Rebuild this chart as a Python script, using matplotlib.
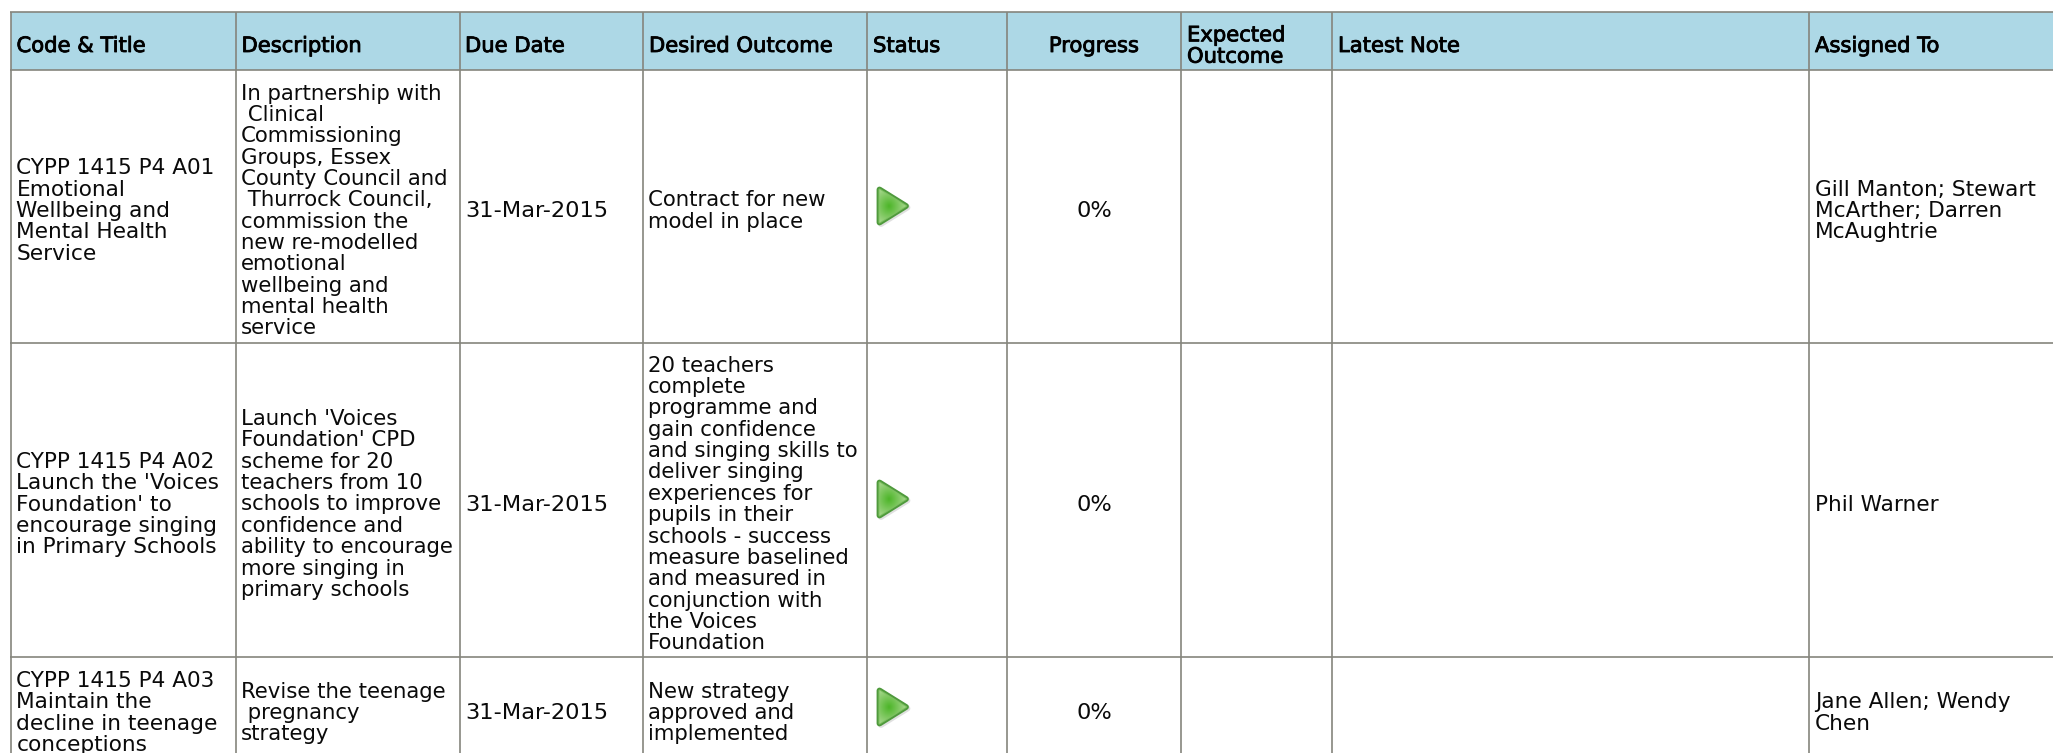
import numpy as np
import matplotlib
matplotlib.use("Agg")
import matplotlib.pyplot as plt
from matplotlib.patches import Polygon, Rectangle
import matplotlib.patheffects as pe

# ---- table content ----
headers = ["Code & Title", "Description", "Due Date", "Desired Outcome", "Status",
           "Progress", "Expected\nOutcome", "Latest Note", "Assigned To"]
codes = [
    "CYPP 1415 P4 A01\nEmotional\nWellbeing and\nMental Health\nService",
    "CYPP 1415 P4 A02\nLaunch the 'Voices\nFoundation' to\nencourage singing\nin Primary Schools",
    "CYPP 1415 P4 A03\nMaintain the\ndecline in teenage\nconceptions",
]
descriptions = [
    "In partnership with\n Clinical\nCommissioning\nGroups, Essex\nCounty Council and\n Thurrock Council,\ncommission the\nnew re-modelled\nemotional\nwellbeing and\nmental health\nservice",
    "Launch 'Voices\nFoundation' CPD\nscheme for 20\nteachers from 10\nschools to improve\nconfidence and\nability to encourage\nmore singing in\nprimary schools",
    "Revise the teenage\n pregnancy\nstrategy",
]
due_dates = ["31-Mar-2015", "31-Mar-2015", "31-Mar-2015"]
outcomes = [
    "Contract for new\nmodel in place",
    "20 teachers\ncomplete\nprogramme and\ngain confidence\nand singing skills to\ndeliver singing\nexperiences for\npupils in their\nschools - success\nmeasure baselined\nand measured in\nconjunction with\nthe Voices\nFoundation",
    "New strategy\napproved and\nimplemented",
]
progress = [0, 0, 0]
expected = ["", "", ""]
notes = ["", "", ""]
assigned = ["Gill Manton; Stewart\nMcArther; Darren\nMcAughtrie", "Phil Warner", "Jane Allen; Wendy\nChen"]

# ---- layout (pixels) ----
W, H = 2053, 753
col_edges = [10.5, 235.5, 459.5, 643, 867, 1007, 1181, 1332, 1809, 2060]
row_edges = [12, 70, 343, 657]
row_cy = [209.5, 503, 711.5]
icon_cy = [206, 499, 707]
PITCH = 21.35
FS = 15.6
FS_DESC = 15.35
FS_DATE = 16.2
FS_HEAD = 15.2
LINE = "#85857d"
INK = "#0a0a0a"

fig = plt.figure(figsize=(W / 100, H / 100), dpi=100, facecolor="white")
ax = fig.add_axes([0, 0, 1, 1])


def put(x, cy, s, ha="left", bold=False, fs=FS, pitch=PITCH):
    parts = s.split("\n")
    for i, line in enumerate(parts):
        y = cy + (i - (len(parts) - 1) / 2) * pitch + 7.5
        t = ax.text(x, y, line, ha=ha, va="baseline", fontsize=FS_HEAD if bold else fs,
                    color="black" if bold else INK, family="DejaVu Sans", clip_on=True)
        if bold:
            t.set_path_effects([pe.withStroke(linewidth=0.6, foreground="black")])


def icon(cy):
    x0, x1 = 876, 911
    y0, y1 = cy - 21, cy + 21
    cx = 889
    tri = [(x0 + 3.5, y0 + 4.5), (x1 - 5, cy), (x0 + 3.5, y1 - 4.5)]
    # soft shadow
    ax.add_patch(Polygon([(a + 1.5, b + 1.5) for a, b in tri], closed=True, fc="#bbbbbb",
                         ec="#bbbbbb", lw=4.2, joinstyle="round", alpha=0.45, zorder=3))
    ax.add_patch(Polygon(tri, closed=True, fc="#4f9a3c", ec="#4f9a3c", lw=4.2, joinstyle="round", zorder=4))
    inner = Polygon(tri, closed=True, fc="none", ec="#7cc060", lw=1.5, joinstyle="round", zorder=5)
    ax.add_patch(inner)
    yy, xx = np.mgrid[y0:y1:60j, x0:x1:60j]
    r = np.clip(np.hypot((xx - cx) / 17, (yy - cy) / 19), 0, 1)[..., None]
    c0 = np.array([0x4c, 0xb5, 0x28]) / 255
    c1 = np.array([0xa4, 0xd6, 0x8a]) / 255
    im = ax.imshow(c0 + (c1 - c0) * r, extent=(x0, x1, y1, y0), aspect="auto", zorder=5, interpolation="bilinear")
    im.set_clip_path(inner)


# header band
ax.add_patch(Rectangle((col_edges[0], row_edges[0]), W, row_edges[1] - row_edges[0], fc="#ADD8E6", ec="none", zorder=0))

# grid
for x in col_edges[:-1]:
    ax.plot([x, x], [row_edges[0], H], color=LINE, lw=1.2, solid_capstyle="butt", zorder=2)
for y in row_edges:
    ax.plot([col_edges[0] - 1, W], [y, y], color=LINE, lw=1.2, solid_capstyle="butt", zorder=2)

# header text
hcy = 44.5
for i, h in enumerate(headers):
    if i == 5:
        put((col_edges[5] + col_edges[6]) / 2, hcy, h, ha="center", bold=True)
    elif i == 2:
        put(col_edges[i] + 5.5, hcy, h, bold=True)
    else:
        put(col_edges[i] + 6, hcy, h, bold=True)

# body
for r in range(3):
    cy = row_cy[r]
    put(col_edges[0] + 6, cy, codes[r])
    put(col_edges[1] + 5.5, cy, descriptions[r], fs=FS_DESC)
    put(col_edges[2] + 5.5, cy, due_dates[r], fs=FS_DATE)
    put(col_edges[3] + 5, cy, outcomes[r], fs=FS_DESC)
    icon(icon_cy[r])
    put((col_edges[5] + col_edges[6]) / 2, cy, f"{progress[r]}%", ha="center", fs=FS_DATE)
    put(col_edges[6] + 6, cy, expected[r])
    put(col_edges[7] + 6, cy, notes[r])
    put(col_edges[8] + 6, cy, assigned[r])

ax.set_xlim(0, W)
ax.set_ylim(H, 0)
ax.axis("off")
fig.savefig("out.png", dpi=100, facecolor="white")
